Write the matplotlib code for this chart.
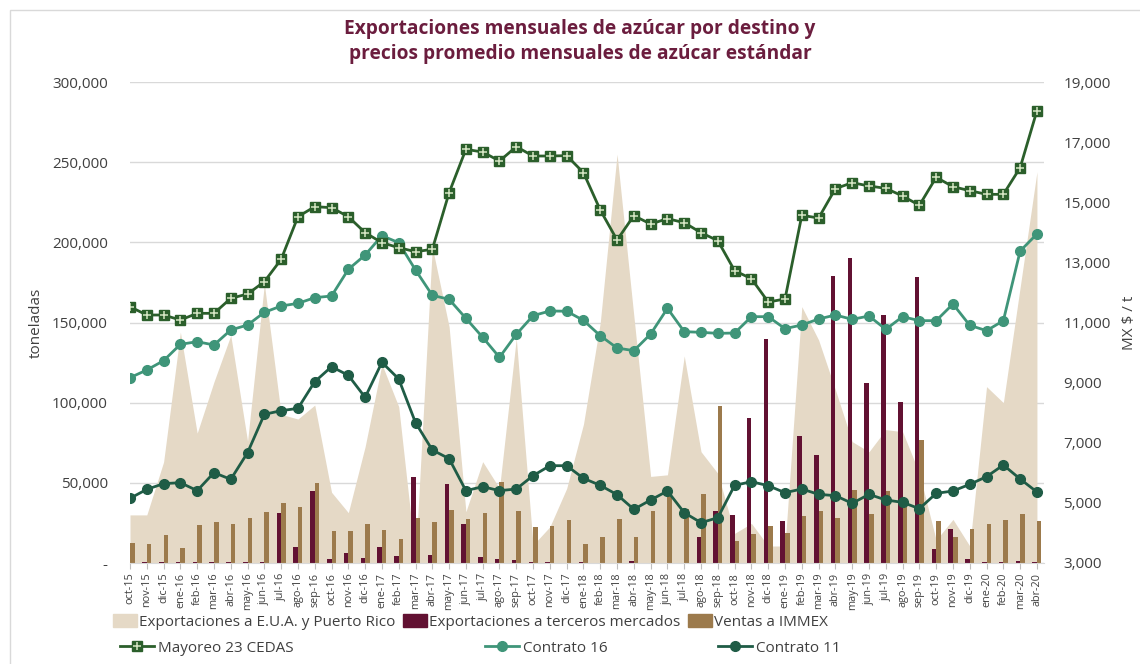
import matplotlib
matplotlib.use('Agg')
import matplotlib.pyplot as plt
from matplotlib.patches import Patch, Rectangle
from matplotlib.lines import Line2D
from matplotlib.ticker import FuncFormatter
import numpy as np

plt.rcParams['font.family'] = ['Open Sans', 'DejaVu Sans']

# Meses (oct-15 a abr-20)
meses = ['oct-15', 'nov-15', 'dic-15',
         'ene-16', 'feb-16', 'mar-16', 'abr-16', 'may-16', 'jun-16', 'jul-16', 'ago-16', 'sep-16', 'oct-16', 'nov-16', 'dic-16',
         'ene-17', 'feb-17', 'mar-17', 'abr-17', 'may-17', 'jun-17', 'jul-17', 'ago-17', 'sep-17', 'oct-17', 'nov-17', 'dic-17',
         'ene-18', 'feb-18', 'mar-18', 'abr-18', 'may-18', 'jun-18', 'jul-18', 'ago-18', 'sep-18', 'oct-18', 'nov-18', 'dic-18',
         'ene-19', 'feb-19', 'mar-19', 'abr-19', 'may-19', 'jun-19', 'jul-19', 'ago-19', 'sep-19', 'oct-19', 'nov-19', 'dic-19',
         'ene-20', 'feb-20', 'mar-20', 'abr-20']

# toneladas
export_eua = [30000, 30000, 63000, 144000, 81000, 113000, 142000, 76000, 174000, 92700,
              89800, 98500, 44100, 31400, 72600, 124000, 97500, 3000, 197000, 147400,
              32000, 63200, 46600, 140100, 11200, 22600, 46500, 86600, 150000, 255000,
              154000, 54000, 55000, 129100, 69400, 55900, 18500, 24700, 10600, 10600,
              159900, 139100, 108000, 75700, 69400, 83200, 81900, 55900, 14300, 27200,
              10600, 110000, 100000, 172000, 244000]
export_terceros = [0, 600, 600, 600, 600, 600, 600, 600, 600, 31400,
                   10200, 44900, 2300, 6400, 2900, 10000, 4200, 53800, 5000, 49500,
                   24100, 3500, 2300, 1700, 500, 700, 300, 500, 300, 300,
                   1000, 300, 300, 300, 16400, 32400, 30100, 90200, 139900, 26000,
                   79200, 67600, 179000, 190200, 112300, 154700, 100600, 178400, 8900, 21400,
                   2700, 500, 500, 1000, 500]
ventas_immex = [12300, 12000, 17300, 9100, 23700, 25600, 24100, 27900, 31800, 37600,
                34900, 49700, 19800, 19900, 24100, 20400, 15000, 27900, 25800, 33100,
                27400, 31000, 50300, 32400, 22700, 23300, 26800, 12100, 16000, 27400,
                16000, 32600, 42400, 33700, 43000, 97900, 13700, 18100, 23100, 18900,
                29500, 32600, 28100, 45500, 30300, 44900, 35100, 76700, 26200, 16000,
                21200, 24100, 26600, 30600, 26400]

# MX $ / t
mayoreo = [11525, 11249, 11249, 11083, 11305, 11305, 11804, 11948, 12358, 13101,
           14520, 14853, 14820, 14520, 13988, 13655, 13489, 13356, 13434, 15318,
           16760, 16671, 16372, 16849, 16538, 16538, 16550, 15984, 14742, 13744,
           14553, 14276, 14454, 14321, 13988, 13721, 12723, 12457, 11682, 11782,
           14565, 14476, 15452, 15651, 15541, 15463, 15208, 14898, 15829, 15518,
           15385, 15263, 15263, 16150, 18046]
contrato16 = [9165, 9420, 9730, 10274, 10362, 10252, 10751, 10917, 11338, 11549,
              11637, 11826, 11882, 12768, 13245, 13888, 13655, 12746, 11904, 11771,
              11139, 10507, 9841, 10606, 11228, 11383, 11375, 11070, 10561, 10152,
              10063, 10617, 11471, 10695, 10673, 10639, 10650, 11194, 11194, 10795,
              10917, 11116, 11249, 11105, 11216, 10773, 11194, 11061, 11061, 11615,
              10906, 10728, 11061, 13378, 13944]
contrato11 = [5151, 5450, 5639, 5672, 5406, 6005, 5783, 6670, 7945, 8067,
              8144, 9031, 9530, 9242, 8510, 9675, 9121, 7668, 6759, 6471,
              5406, 5539, 5406, 5462, 5905, 6237, 6237, 5816, 5583, 5273,
              4785, 5096, 5395, 4674, 4341, 4508, 5583, 5705, 5572, 5339,
              5462, 5284, 5240, 4985, 5284, 5096, 5018, 4807, 5317, 5395,
              5617, 5872, 6260, 5794, 5362]

c_area = '#E5D9C6'
c_terc = '#621132'
c_immex = '#9C7A4C'
c_may = '#2B5F2B'
c_c16 = '#3F9579'
c_c11 = '#1F5C46'
c_grid = '#D9D9D9'
c_txt = '#404040'

x = np.arange(len(meses))
w = 0.27

fig = plt.figure(figsize=(11.4, 6.64), dpi=100)
ax = fig.add_axes([130 / 1140, 1 - 563 / 664, (1044 - 130) / 1140, (563 - 82) / 664])

ax.fill_between(x, export_eua, 0, color=c_area, linewidth=0, zorder=1)
ax.bar(x - w / 2, export_terceros, width=w, color=c_terc, zorder=2)
ax.bar(x + w / 2, ventas_immex, width=w, color=c_immex, zorder=2)

ax.set_xlim(0, 54.42)
ax.set_ylim(0, 300000)
ax.set_yticks(np.arange(0, 300001, 50000))
ax.yaxis.set_major_formatter(FuncFormatter(lambda v, p: '-' if v == 0 else f'{v:,.0f}'))
ax.grid(axis='y', color=c_grid, linewidth=1)
ax.set_axisbelow(True)
ax.set_xticks(x)
ax.set_xticklabels(meses, rotation=90, fontsize=7.8, color=c_txt)
ax.tick_params(axis='x', length=4, color='#BFBFBF', pad=3)
ax.tick_params(axis='y', length=0, labelsize=11, labelcolor=c_txt, pad=16)
for s in ['top', 'left', 'right']:
    ax.spines[s].set_visible(False)
ax.spines['bottom'].set_color(c_grid)
ax.set_ylabel('toneladas', fontsize=11, color=c_txt, labelpad=6)

# eje secundario: precios
ax2 = ax.twinx()
ax2.set_ylim(3000, 19000)
ax2.set_yticks(np.arange(3000, 19001, 2000))
ax2.yaxis.set_major_formatter(FuncFormatter(lambda v, p: f'{v:,.0f}'))
ax2.tick_params(axis='y', length=0, labelsize=11, labelcolor=c_txt, pad=14)
for s in ax2.spines.values():
    s.set_visible(False)
ax2.set_ylabel('MX $ / t', fontsize=11, color=c_txt, labelpad=8)

ax2.plot(x, contrato16, color=c_c16, linewidth=2, marker='o', markersize=7, zorder=3)
ax2.plot(x, contrato11, color=c_c11, linewidth=2, marker='o', markersize=7, zorder=3)
ax2.plot(x, mayoreo, color=c_may, linewidth=2, marker='s', markersize=7, zorder=4)
ax2.plot(x, mayoreo, linestyle='none', marker='+', markersize=5.5, markeredgewidth=1.1,
         color='#D5E6C3', zorder=5)

fig.suptitle('Exportaciones mensuales de azúcar por destino y\nprecios promedio mensuales de azúcar estándar',
             x=580 / 1140, y=1 - 19 / 664, va='top', fontsize=13.8, fontweight='bold',
             color='#6B1D3E', linespacing=1.3)

# leyenda fila 1
h1 = [Patch(color=c_area), Patch(color=c_terc), Patch(color=c_immex)]
l1 = ['Exportaciones a E.U.A. y Puerto Rico', 'Exportaciones a terceros mercados', 'Ventas a IMMEX']
fig.legend(h1, l1, loc='center left', bbox_to_anchor=(113 / 1140, 1 - 622 / 664), ncol=3,
           frameon=False, fontsize=11, handlelength=1.6, handleheight=0.9, handletextpad=0.1,
           columnspacing=0.5, borderpad=0, borderaxespad=0, labelcolor=c_txt)

# leyenda fila 2
may_h = (Line2D([], [], color=c_may, linewidth=2, marker='s', markersize=7),
         Line2D([], [], linestyle='none', marker='+', markersize=5.5, markeredgewidth=1.1, color='#D5E6C3'))
fila2 = [(may_h, 'Mayoreo 23 CEDAS', 120),
         (Line2D([], [], color=c_c16, linewidth=2, marker='o', markersize=7), 'Contrato 16', 485),
         (Line2D([], [], color=c_c11, linewidth=2, marker='o', markersize=7), 'Contrato 11', 718)]
for h, l, px in fila2:
    fig.legend([h], [l], loc='center left', bbox_to_anchor=(px / 1140, 1 - 648 / 664),
               frameon=False, fontsize=11, handlelength=2.2, handletextpad=0.3,
               borderpad=0, borderaxespad=0, labelcolor=c_txt)

# borde del grafico
fig.patches.append(Rectangle((10 / 1140, -0.1), 1.2, 1.1 - 10 / 664, transform=fig.transFigure,
                             fill=False, edgecolor='#D9D9D9', linewidth=1))

plt.savefig('out.png', dpi=100)
